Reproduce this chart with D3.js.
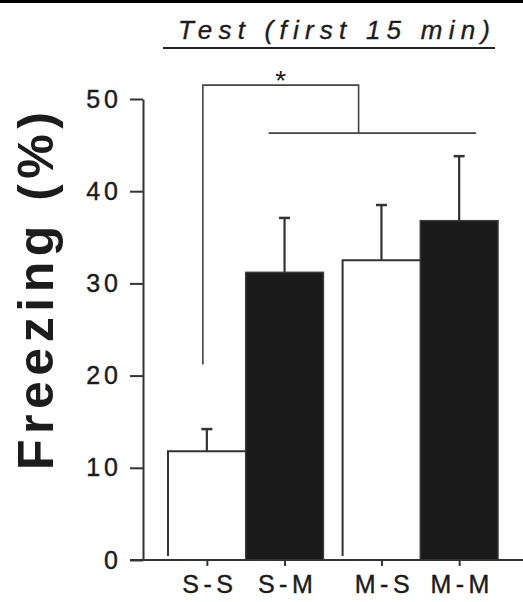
<!DOCTYPE html>
<html>
<head>
<meta charset="utf-8">
<script src="https://cdn.jsdelivr.net/npm/d3@7"></script>
<style>
  html, body { margin: 0; padding: 0; background: #fff; }
  svg { display: block; font-family: "Liberation Sans", Arial, sans-serif; }
</style>
</head>
<body>
<script>
// ================== DATA ===========================
const categories = ["S-S", "S-M", "M-S", "M-M"];
const groups = ["S", "M"];          // first letter of the pair
const members = ["S", "M"];         // second letter (white = S, black = M)
const means = [11.8, 31.2, 32.5, 36.8];
const sems = [2.4, 5.9, 6.0, 7.0];
const yTicks = [0, 10, 20, 30, 40, 50];
const titleText = "Test (first 15 min)";
const yLabel = "Freezing (%)";
// significance bracket levels (in % units)
const sigTop = 51.5, sigLow = 46.3, sigLeftEnd = 21.2;

// ================== LAYOUT ===========================
const width = 523, height = 602;
const ink = "#1c1c1c", lineCol = "#333";

const svg = d3.select("body").append("svg")
  .attr("width", width).attr("height", height);

const y = d3.scaleLinear().domain([0, 50]).range([560, 99]);
const xGroup = d3.scaleBand().domain(groups).range([168, 498]).paddingInner(0.11);
const xInner = d3.scaleBand().domain(members).range([0, xGroup.bandwidth()]);

const barX = c => xGroup(c[0]) + xInner(c[2]);
const barW = xInner.bandwidth();
const barC = c => barX(c) + barW / 2;

// ordinal scale to let d3.axisBottom place the category ticks
const xTick = d3.scaleOrdinal().domain(categories).range(categories.map(barC));

const axisX0 = 143;      // y axis position
const tickLen = 13;

// top border
svg.append("rect").attr("x", 0).attr("y", 0).attr("width", width).attr("height", 3).attr("fill", "#000");

// ============ title =============================
svg.append("text")
  .attr("x", 178).attr("y", 39)
  .attr("font-size", 26).attr("font-style", "italic")
  .attr("fill", ink).attr("stroke", ink).attr("stroke-width", 0.35)
  .attr("textLength", 312).attr("lengthAdjust", "spacing")
  .text(titleText);

svg.append("line")
  .attr("x1", 163).attr("x2", 495).attr("y1", 48).attr("y2", 48)
  .attr("stroke", "#222").attr("stroke-width", 2);

// ============ y axis =============================
const yAxis = d3.axisLeft(y).tickValues(yTicks).tickSize(tickLen).tickSizeOuter(0).tickPadding(12);
const gy = svg.append("g").attr("transform", `translate(${axisX0},0)`).call(yAxis);
gy.select(".domain").attr("stroke", lineCol).attr("stroke-width", 2);
gy.selectAll(".tick line").attr("stroke", lineCol).attr("stroke-width", 2);
gy.selectAll(".tick text")
  .attr("font-size", 25).attr("fill", ink).attr("stroke", ink).attr("stroke-width", 0.4)
  .attr("font-family", "Liberation Sans, Arial, sans-serif")
  .style("letter-spacing", "4px").attr("dx", 4);

svg.append("text")
  .attr("transform", `translate(53, ${(470 + 112) / 2}) rotate(-90)`)
  .attr("text-anchor", "middle")
  .attr("font-size", 50).attr("font-weight", "bold")
  .attr("fill", ink)
  .attr("textLength", 358).attr("lengthAdjust", "spacing")
  .text(yLabel);

// ============ bars =================================
const bars = categories.map((c, i) => ({ c, m: means[i], e: sems[i] }));

// black bars
svg.selectAll("rect.black")
  .data(bars.filter(d => d.c[2] === "M")).enter()
  .append("rect").attr("class", "black")
  .attr("x", d => barX(d.c))
  .attr("y", d => y(d.m))
  .attr("width", barW)
  .attr("height", d => y(0) - y(d.m))
  .attr("fill", "#1a1a1a")
  .attr("stroke", "#3a3a3a").attr("stroke-width", 1.5);

// white bars: left edge + top only
svg.selectAll("path.white")
  .data(bars.filter(d => d.c[2] === "S")).enter()
  .append("path").attr("class", "white")
  .attr("d", d => `M${barX(d.c)},${y(0) - 4}V${y(d.m)}H${barX(d.c) + barW}`)
  .attr("fill", "none")
  .attr("stroke", lineCol).attr("stroke-width", 2);

// error bars
const err = svg.selectAll("g.err").data(bars).enter().append("g").attr("class", "err");
err.append("line")
  .attr("x1", d => barC(d.c)).attr("x2", d => barC(d.c))
  .attr("y1", d => y(d.m)).attr("y2", d => y(d.m + d.e))
  .attr("stroke", lineCol).attr("stroke-width", 2.2);
err.append("line")
  .attr("x1", d => barC(d.c) - 5.5).attr("x2", d => barC(d.c) + 5.5)
  .attr("y1", d => y(d.m + d.e)).attr("y2", d => y(d.m + d.e))
  .attr("stroke", lineCol).attr("stroke-width", 2.5);

// ============ x axis =============================
const gx = svg.append("g").attr("transform", `translate(0,${y(0)})`)
  .call(d3.axisBottom(xTick).tickSize(6).tickSizeOuter(0).tickPadding(9));
gx.select(".domain").remove();
gx.append("line")
  .attr("x1", axisX0 - tickLen).attr("x2", width)
  .attr("stroke", lineCol).attr("stroke-width", 2);
gx.selectAll(".tick line").attr("stroke", lineCol).attr("stroke-width", 2);
gx.selectAll(".tick text")
  .attr("font-size", 25).attr("fill", ink).attr("stroke", ink).attr("stroke-width", 0.4)
  .attr("font-family", "Liberation Sans, Arial, sans-serif")
  .style("letter-spacing", "4.5px").attr("dx", 2.5);

// ============ significance bracket ===============
const leftArm = barC("S-S") - 4;
const junction = barX("M-S") + 16;
const lowL = barC("S-M") - 16, lowR = barC("M-M") + 17;

svg.append("path")
  .attr("d", `M${leftArm},${y(sigLeftEnd)}V${y(sigTop)}H${junction}V${y(sigLow)}`)
  .attr("fill", "none").attr("stroke", "#444").attr("stroke-width", 1.6);
svg.append("line")
  .attr("x1", lowL).attr("x2", lowR).attr("y1", y(sigLow)).attr("y2", y(sigLow))
  .attr("stroke", "#444").attr("stroke-width", 1.6);
svg.append("text")
  .attr("x", (leftArm + junction) / 2).attr("y", y(sigTop) + 5)
  .attr("text-anchor", "middle")
  .attr("font-size", 28).attr("fill", ink)
  .text("*");
</script>
</body>
</html>
